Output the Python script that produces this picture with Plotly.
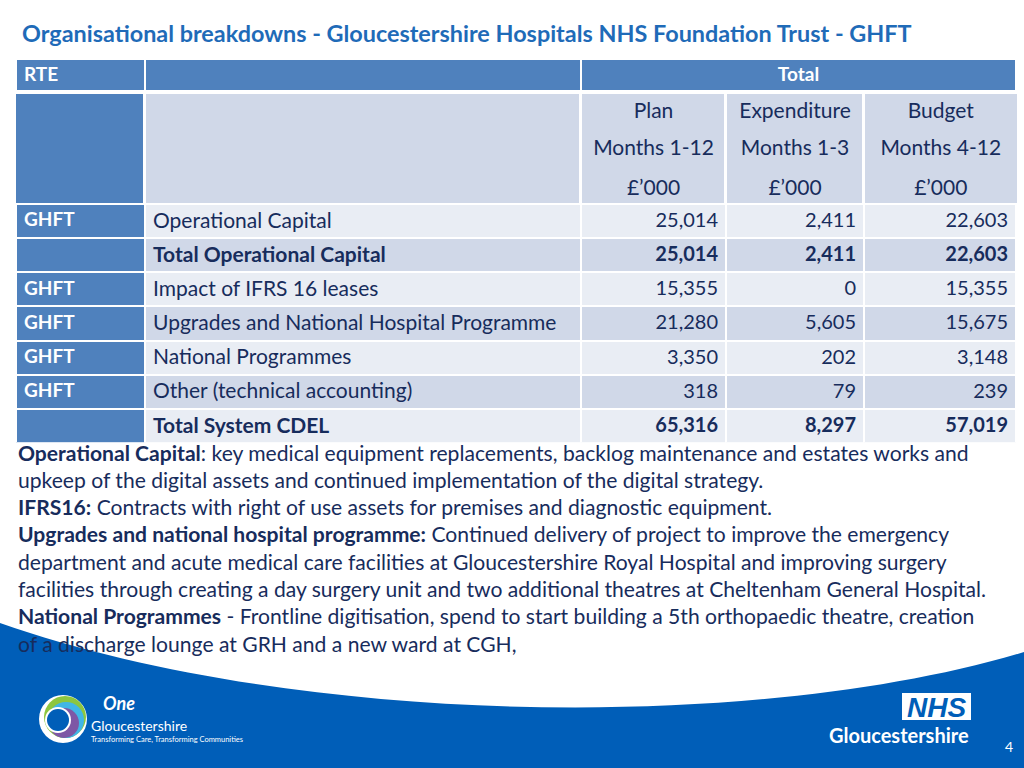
import plotly.graph_objects as go

W, H = 1024, 768

# ---------------- data ----------------
rte_codes = ["GHFT", "", "GHFT", "GHFT", "GHFT", "GHFT", ""]
line_items = ["Operational Capital", "Total Operational Capital", "Impact of IFRS 16 leases",
              "Upgrades and National Hospital Programme", "National Programmes",
              "Other (technical accounting)", "Total System CDEL"]
plan_m1_12 = [25014, 25014, 15355, 21280, 3350, 318, 65316]
expenditure_m1_3 = [2411, 2411, 0, 5605, 202, 79, 8297]
budget_m4_12 = [22603, 22603, 15355, 15675, 3148, 239, 57019]
total_rows = [False, True, False, False, False, False, True]

top_header = ["RTE", "", "Total"]
measure_titles = ["Plan", "Expenditure", "Budget"]
measure_periods = ["Months 1-12", "Months 1-3", "Months 4-12"]
measure_unit = "£’000"

title_text = "Organisational breakdowns - Gloucestershire Hospitals NHS Foundation Trust - GHFT"
note_lines = [
    "<b>Operational Capital</b>: key medical equipment replacements, backlog maintenance and estates works and",
    "upkeep of the digital assets and continued implementation of the digital strategy.",
    "<b>IFRS16:</b> Contracts with right of use assets for premises and diagnostic equipment.",
    "<b>Upgrades and national hospital programme:</b> Continued delivery of project to improve the emergency",
    "department and acute medical care facilities at Gloucestershire Royal Hospital and improving surgery",
    "facilities through creating a day surgery unit and two additional theatres at Cheltenham General Hospital.",
    "<b>National Programmes</b> - Frontline digitisation, spend to start building a 5th orthopaedic theatre, creation",
    "of a discharge lounge at GRH and a new ward at CGH,",
]

# ---------------- style ----------------
FONT = "Lato"
BLUE_HDR = "#4F81BD"
ROW_DARK = "#D0D8E8"
ROW_LIGHT = "#E9EDF4"
TXT = "#172C5C"
TITLE_BLUE = "#1F6BB8"
NHS_BLUE = "#005EB8"

col_px = [129, 436, 145, 138, 152]
col_font_size = [19, 21, 20, 20, 20]
TABLE_LEFT = 16


def px(x):
    return x / W


def py(y):
    return 1 - y / H


TABLE_X = [px(TABLE_LEFT), px(TABLE_LEFT + sum(col_px))]
nb = lambda s: s.replace(" ", "\u00a0")

fig = go.Figure()

# --- top header row (RTE | blank | Total) ---
fig.add_trace(go.Table(
    domain=dict(x=TABLE_X, y=[py(91), py(59)]),
    columnwidth=[col_px[0], col_px[1], sum(col_px[2:])],
    header=dict(values=top_header, height=32, fill_color=BLUE_HDR,
                line=dict(color="white", width=2), align=["left", "left", "center"],
                font=dict(family=FONT, size=19, color="white", weight="bold")),
    cells=dict(values=[[], [], []]),
))

# --- sub header (Plan / Months / £'000), gap columns give white separators ---
GAP = 3
sub_widths, sub_fill = [], []
for i, w in enumerate(col_px):
    if i > 0:
        sub_widths.append(GAP)
        sub_fill.append("white")
    n_gaps = (1 if i > 0 else 0) + (1 if i < len(col_px) - 1 else 0)
    sub_widths.append(w - GAP * n_gaps / 2)
    sub_fill.append(BLUE_HDR if i == 0 else ROW_DARK)

sub_lines = [measure_titles, [nb(p) for p in measure_periods], [measure_unit] * 3]
# overlapping bands so that no seam shows between the three header lines
sub_bands = [(94, 134), (131, 174), (171, 203)]
for labels, (top, bot) in zip(sub_lines, sub_bands):
    # column layout: RTE, gap, desc, gap, plan, gap, exp, gap, budget
    vals = ["", "", "", "", labels[0], "", labels[1], "", labels[2]]
    fig.add_trace(go.Table(
        domain=dict(x=TABLE_X, y=[py(bot), py(top)]),
        columnwidth=sub_widths,
        header=dict(values=vals, height=bot - top, fill_color=sub_fill,
                    line=dict(color=sub_fill, width=1), align="center",
                    font=dict(family=FONT, size=21, color=TXT)),
        cells=dict(values=[[] for _ in sub_widths]),
    ))

# --- data rows: one table band per row so total rows can be bold ---
ROW_TOP = 204
ROW_H = 239 / 7
for i in range(len(line_items)):
    fill = ROW_LIGHT if i % 2 == 0 else ROW_DARK
    w = "bold" if total_rows[i] else "normal"
    top = ROW_TOP + i * ROW_H
    fig.add_trace(go.Table(
        domain=dict(x=TABLE_X, y=[py(top + ROW_H), py(top)]),
        columnwidth=col_px,
        header=dict(
            values=[rte_codes[i], nb(line_items[i]), f"{plan_m1_12[i]:,}",
                    f"{expenditure_m1_3[i]:,}", f"{budget_m4_12[i]:,}"],
            height=ROW_H,
            fill_color=[BLUE_HDR, fill, fill, fill, fill],
            line=dict(color="white", width=2),
            align=["left", "left", "right", "right", "right"],
            font=dict(family=FONT, size=col_font_size,
                      color=["white", TXT, TXT, TXT, TXT],
                      weight=["bold", w, w, w, w]),
        ),
        cells=dict(values=[[] for _ in col_px]),
    ))

shapes = []
# bottom blue band with curved white edge
shapes.append(dict(
    type="path", xref="paper", yref="paper", layer="below",
    path=(f"M 0,{py(768)} L 0,{py(623)} C {px(300)},{py(728)} {px(760)},{py(732)} 1,{py(652)} "
          f"L 1,{py(768)} Z"),
    fillcolor=NHS_BLUE, line=dict(width=0),
))


def circle(cx, cy, r, color):
    return dict(type="circle", xref="paper", yref="paper",
                x0=px(cx - r), x1=px(cx + r), y0=py(cy + r), y1=py(cy - r),
                fillcolor=color, line=dict(width=0))


shapes += [
    circle(63, 719, 24, "white"),
    circle(65, 717, 21, "#8DC63F"),
    circle(66, 720, 18, "#41B6E6"),
    circle(64, 723, 15, "#7E57A5"),
    circle(58, 720, 13, "white"),
    circle(58, 720, 11, NHS_BLUE),
]
# NHS box
shapes.append(dict(type="rect", xref="paper", yref="paper",
                   x0=px(902), x1=px(971), y0=py(720), y1=py(693),
                   fillcolor="white", line=dict(width=0)))

annotations = [
    dict(text=f"<b>{title_text}</b>", x=px(20), y=py(33), xanchor="left", yanchor="middle",
         font=dict(family=FONT, size=23.4, color=TITLE_BLUE)),
]
for i, ln in enumerate(note_lines):
    annotations.append(dict(text=ln, x=px(16), y=py(452 + i * 27.3), xanchor="left", yanchor="middle",
                            font=dict(family=FONT, size=21.1, color=TXT)))

annotations += [
    dict(text="<b><i>One</i></b>", x=px(101), y=py(703), xanchor="left", yanchor="middle",
         font=dict(family=FONT, size=18, color="white")),
    dict(text="Gloucestershire", x=px(89), y=py(725), xanchor="left", yanchor="middle",
         font=dict(family=FONT, size=14, color="white")),
    dict(text="Transforming Care, Transforming Communities", x=px(89), y=py(739), xanchor="left",
         yanchor="middle", font=dict(family=FONT, size=7.5, color="white")),
    dict(text="<b><i>NHS</i></b>", x=px(936.5), y=py(707), xanchor="center", yanchor="middle",
         font=dict(family="Liberation Sans", size=28, color=NHS_BLUE)),
    dict(text="<b>Gloucestershire</b>", x=px(971), y=py(735), xanchor="right", yanchor="middle",
         font=dict(family=FONT, size=20, color="white")),
    dict(text="4", x=px(1009), y=py(746), xanchor="center", yanchor="middle",
         font=dict(family=FONT, size=14, color="white")),
]
for a in annotations:
    a.update(xref="paper", yref="paper", showarrow=False)

fig.update_layout(
    width=W, height=H, margin=dict(l=0, r=0, t=0, b=0, pad=0),
    paper_bgcolor="white", plot_bgcolor="white", showlegend=False,
    shapes=shapes, annotations=annotations,
)

fig.write_html("out.html", config={"displayModeBar": False},
               post_script="document.body.style.margin='0';document.body.style.overflow='hidden';")
